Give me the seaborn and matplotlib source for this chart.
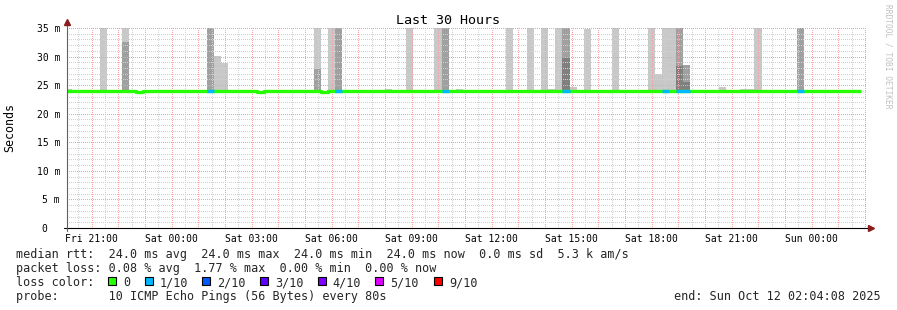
import numpy as np
import pandas as pd
import matplotlib
matplotlib.use("Agg")
import matplotlib.pyplot as plt
import seaborn as sns
from matplotlib.ticker import FixedLocator, MultipleLocator, FuncFormatter
from matplotlib.patches import Rectangle

# ---------------- data ----------------
title = "Last 30 Hours"
y_label = "Seconds"
t_start = 20 + 4 / 60 + 8 / 3600          # hours since Fri 00:00 (Fri 20:04:08)
t_end = t_start + 30                       # Sun 02:04:08
bin_origin = 19.98                         # start of first 16-minute bin (hours since Fri 00:00)
bin_w = 16 / 60
n_bins = 112
median_base_ms = 24.0
median_dip_bins = [10, 27, 36]
median_dip_ms = [23.85, 23.85, 23.85]
loss_bins = [20, 38, 53, 70, 84, 86, 87, 103]

nan = float("nan")
smoke_bins = [0, 5, 8, 20, 21, 22, 35, 37, 38, 45, 48, 52, 53, 55, 62, 65, 67, 68,
              69, 70, 71, 73, 77, 82, 83, 84, 85, 86, 87, 88, 92, 95, 96, 97, 103]
smoke_light = [24.3, 35, 35, nan, 30.1, 28.9, 35, 35, nan, 24.3, 35, 35, nan, 24.3, 35, 35, 35, 24.3,
               35, nan, 24.7, 34.8, 35, 35, 27.0, 35, 35, nan, nan, 24.2, 24.7, 24.3, 24.3, 35, nan]
smoke_mid = [nan, nan, 32.6, 35, nan, nan, 27.9, nan, 35, nan, nan, nan, 35, nan, nan, nan, nan, nan,
             nan, 35, nan, nan, nan, nan, nan, nan, nan, 35, 28.5, nan, nan, nan, nan, nan, 35]
smoke_dark = [nan] * 19 + [29.75] + [nan] * 7 + [28.35, 25.6] + [nan] * 6
smoke_floor_ms = 23.9

y_ticks = [0, 5, 10, 15, 20, 25, 30, 35]
y_tick_labels = ["0  ", "5 m", "10 m", "15 m", "20 m", "25 m", "30 m", "35 m"]
label_hours = [21, 24, 27, 30, 33, 36, 39, 42, 45, 48]
label_texts = ["Fri 21:00", "Sat 00:00", "Sat 03:00", "Sat 06:00", "Sat 09:00",
               "Sat 12:00", "Sat 15:00", "Sat 18:00", "Sat 21:00", "Sun 00:00"]

legend_rtt = "median rtt:  24.0 ms avg  24.0 ms max  24.0 ms min  24.0 ms now  0.0 ms sd  5.3 k am/s"
legend_loss = "packet loss: 0.08 % avg  1.77 % max  0.00 % min  0.00 % now"
legend_color_label = "loss color:"
loss_color_names = ["0", "1/10", "2/10", "3/10", "4/10", "5/10", "9/10"]
loss_colors = ["#26ff00", "#00b8ff", "#0059ff", "#5e00ff", "#7e00ff", "#dd00ff", "#ff0000"]
legend_probe = "probe:       10 ICMP Echo Pings (56 Bytes) every 80s"
legend_end = "end: Sun Oct 12 02:04:08 2025"
watermark = "RRDTOOL / TOBI OETIKER"

# ---------------- style ----------------
sns.set_theme(style="white")
plt.rcParams["font.family"] = ["DejaVu Sans Mono"]

W, H = 897, 310
fig = plt.figure(figsize=(W / 100, H / 100), dpi=100)
fig.patch.set_facecolor("white")
ax = fig.add_axes([67 / W, (H - 228) / H, 800 / W, 200 / H])
ax.set_facecolor("white")

LIGHT, MID, DARK = "#c8c8c8", "#a0a0a0", "#808080"

# smoke
starts = bin_origin + np.array(smoke_bins) * bin_w
for tops, col in ((smoke_light, LIGHT), (smoke_mid, MID), (smoke_dark, DARK)):
    tops = np.array(tops, dtype=float)
    m = ~np.isnan(tops)
    ax.bar(starts[m], tops[m] - smoke_floor_ms, bottom=smoke_floor_ms, width=bin_w,
           align="edge", color=col, linewidth=0, zorder=1)

# median line
median = [median_base_ms] * n_bins
for k, v in zip(median_dip_bins, median_dip_ms):
    median[k] = v
edges = bin_origin + np.arange(n_bins + 1) * bin_w
df = pd.DataFrame({"t": edges, "ms": median + [median[-1]]})
sns.lineplot(data=df, x="t", y="ms", drawstyle="steps-post", color=loss_colors[0],
             lw=2.4, ax=ax, zorder=3, estimator=None, solid_capstyle="butt")
lb = np.array(loss_bins)
ax.hlines([median[k] for k in loss_bins], bin_origin + lb * bin_w, bin_origin + (lb + 1) * bin_w,
          colors=loss_colors[1], lw=2.4, zorder=3.5, capstyle="butt")

# axes / grid
ax.set_xlim(t_start, t_end)
ax.set_ylim(0, 35)
ax.set_xlabel("")
ax.set_ylabel("")
ax.xaxis.set_major_locator(FixedLocator(np.arange(21, 51)))
ax.xaxis.set_minor_locator(MultipleLocator(0.5))
lab = dict(zip(label_hours, label_texts))
ax.xaxis.set_major_formatter(FuncFormatter(lambda v, p: lab.get(int(round(v)), "")))
ax.yaxis.set_major_locator(FixedLocator(y_ticks))
ax.yaxis.set_minor_locator(MultipleLocator(1))
ax.set_yticklabels(y_tick_labels)
ax.set_axisbelow(False)
DOT = (0.5, (1, 1))
ax.grid(which="major", color="#f6a0a0", linestyle=DOT, linewidth=0.72)
ax.grid(which="minor", color="#d0d0d0", linestyle=DOT, linewidth=0.72)
ax.tick_params(axis="both", which="both", length=0)
ax.tick_params(axis="x", labelsize=7, pad=4.2, colors="black")
ax.tick_params(axis="y", labelsize=7, pad=5.0, colors="black")
for s in ax.spines.values():
    s.set_visible(False)

AX_RED = "#8c1c1c"
ax.plot([-0.00375, 1.00125], [0, 0], transform=ax.transAxes, color="black", lw=0.8,
        clip_on=False, zorder=5)
ax.plot([0, 0], [-0.015, 1.025], transform=ax.transAxes, color="#606060", lw=0.8,
        clip_on=False, zorder=5)
ax.plot([0], [1.028], marker="^", ms=4.5, color=AX_RED, transform=ax.transAxes, clip_on=False, zorder=6)
ax.plot([1.0045], [0], marker=">", ms=4.5, color=AX_RED, transform=ax.transAxes, clip_on=False, zorder=6)

# ---------------- texts ----------------
def fx(px):
    return px / W

def fy(py):
    return 1 - py / H

fig.text(fx(448), fy(24), title, ha="center", va="baseline", fontsize=9.6, color="black")
fig.text(fx(10), fy(128), y_label, ha="center", va="center", rotation=90, fontsize=8.4, color="black")
fig.text(fx(888), fy(56), watermark, ha="center", va="center", rotation=270, fontsize=5.7, color="#c0c0c0")

LFS = 8.5
fig.text(fx(16), fy(258), legend_rtt, ha="left", va="baseline", fontsize=LFS)
fig.text(fx(16), fy(272), legend_loss, ha="left", va="baseline", fontsize=LFS)
fig.text(fx(16), fy(286), legend_color_label, ha="left", va="baseline", fontsize=LFS)
text_x = [123, 159.5, 217, 275, 332.5, 390, 449]
for name, col, tx in zip(loss_color_names, loss_colors, text_x):
    sq = Rectangle((fx(tx - 15), fy(285)), 8 / W, 8 / H, transform=fig.transFigure,
                   facecolor=col, edgecolor="black", lw=0.8)
    fig.patches.append(sq)
    fig.text(fx(tx), fy(286), name, ha="left", va="baseline", fontsize=LFS)
fig.text(fx(16), fy(300), legend_probe, ha="left", va="baseline", fontsize=LFS)
fig.text(fx(881), fy(300), legend_end, ha="right", va="baseline", fontsize=LFS)

fig.savefig("out.png", dpi=100, facecolor="white")
